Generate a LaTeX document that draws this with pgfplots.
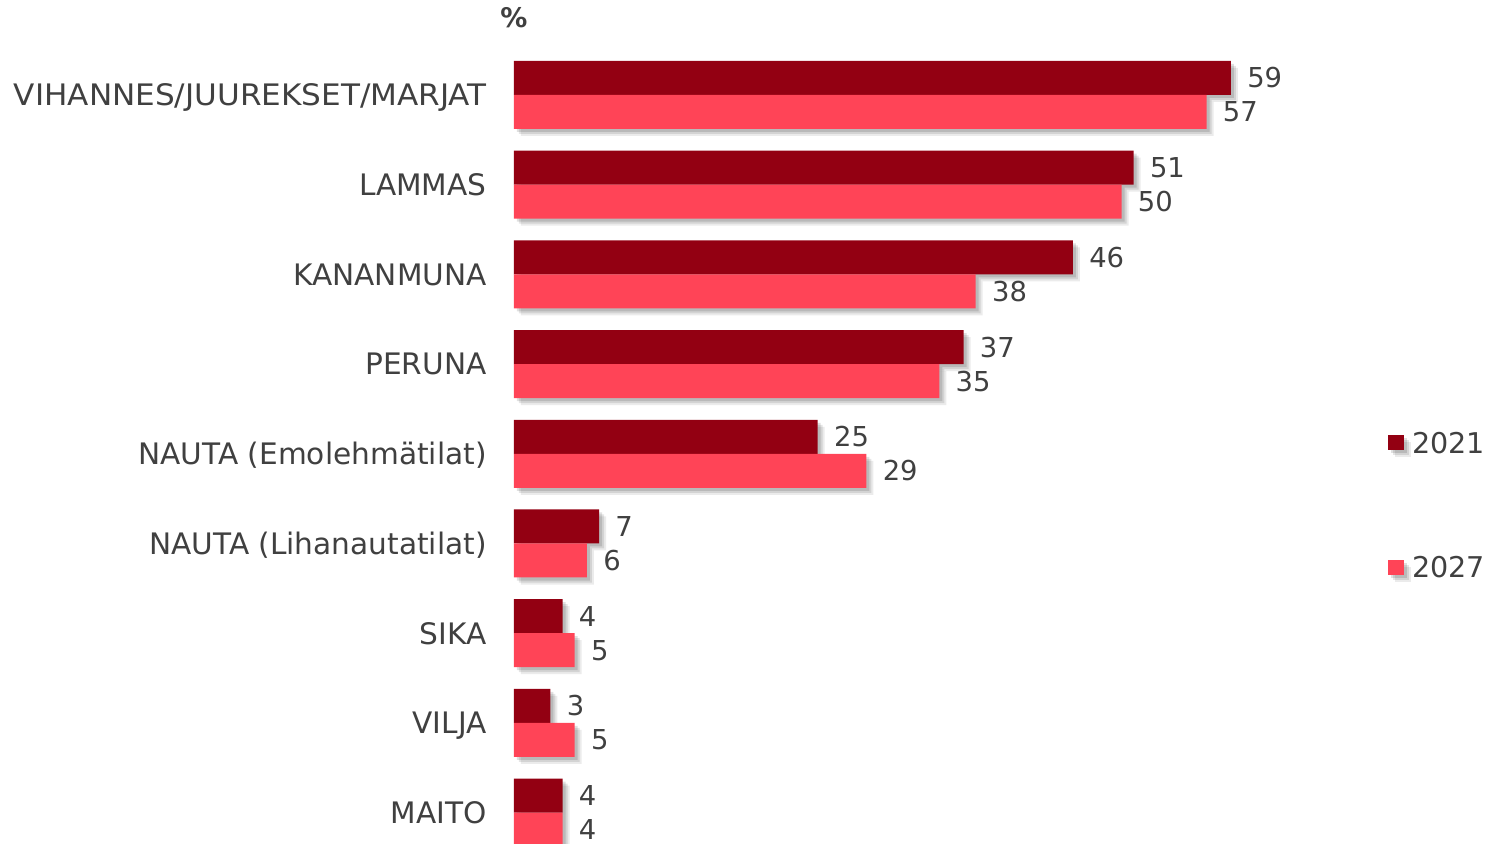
\documentclass[border=0pt]{standalone}
\usepackage{pgfplots}
\pgfplotsset{compat=1.18}
\usepackage{fontspec}
\setmainfont{DejaVu Sans}
\newfontfamily\widefont{DejaVu Sans}[FakeStretch=1.05]
\definecolor{darkred}{HTML}{930012}
\definecolor{lightred}{HTML}{FF4457}
\definecolor{txt}{HTML}{404040}
\tikzset{barshadow/.style={
  preaction={fill=black, fill opacity=0.08, transform canvas={shift={(3.5pt,-3.5pt)}}},
  preaction={fill=black, fill opacity=0.10, transform canvas={shift={(2.5pt,-2.5pt)}}},
  preaction={fill=black, fill opacity=0.12, transform canvas={shift={(1.5pt,-1.5pt)}}}}}
\begin{document}
\begin{tikzpicture}
\path[use as bounding box] (0,0) rectangle (745pt,422pt);
\clip (0,0) rectangle (745pt,422pt);
\begin{axis}[
  anchor=origin, at={(257pt,374.5pt)},
  x=6.075pt, y=44.85pt, y dir=reverse,
  xmin=0, xmax=80.33, ymin=-1.0591, ymax=8.35,
  clip=false,
  xbar, bar width=17pt,
  axis line style={draw=none},
  tick style={draw=none},
  major tick length=0pt,
  xtick=\empty,
  /pgf/number format/assume math mode=true,
  ytick={0,1,2,3,4,5,6,7,8},
  yticklabels={{\widefont VIHANNES/JUUREKSET/MARJAT},LAMMAS,KANANMUNA,PERUNA,NAUTA (Emolehmätilat),NAUTA (Lihanautatilat),SIKA,VILJA,MAITO},
  yticklabel style={font=\fontsize{14.8}{17}\selectfont, text=txt, anchor=east, inner sep=0pt, text height=10.8pt, text depth=0pt, xshift=-13.5pt},
  nodes near coords,
  every node near coord/.append style={font=\fontsize{13.7}{16}\selectfont, text=txt, anchor=west, inner sep=0pt, text height=10pt, text depth=0pt, xshift=8pt},
  legend image code/.code={\fill[#1] (0pt,-3.9pt) rectangle (8pt,3.9pt);},
  legend style={draw=none, fill=none, at={(axis cs:71.93,4.571)}, anchor=west, inner sep=0pt, row sep=52pt,
    font=\fontsize{14.3}{17}\selectfont, text=txt,
    nodes={inner sep=0pt, text height=10.4pt, text depth=0pt}},
  legend cell align=left,
]
\addplot[fill=darkred, draw=none, bar shift=8.5pt, barshadow]
  coordinates {(59,0) (51,1) (46,2) (37,3) (25,4) (7,5) (4,6) (3,7) (4,8)};
\addlegendentry{\hspace{4pt}2021}
\addplot[fill=lightred, draw=none, bar shift=-8.5pt, barshadow]
  coordinates {(57,0) (50,1) (38,2) (35,3) (29,4) (6,5) (5,6) (5,7) (4,8)};
\addlegendentry{\hspace{4pt}2027}
\node[anchor=base west, inner sep=0pt, font=\bfseries\fontsize{13.5}{15}\selectfont, text=txt] at (axis cs:-1.15,-0.758) {\%};
\end{axis}
\end{tikzpicture}
\end{document}
